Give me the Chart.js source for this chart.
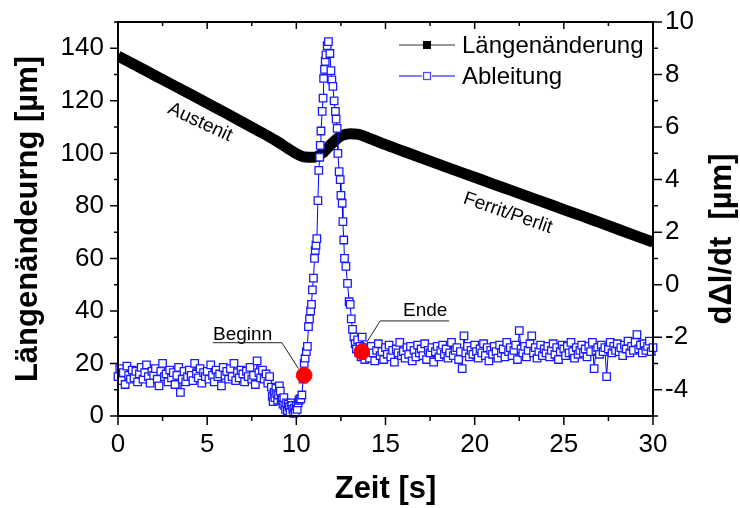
<!DOCTYPE html>
<html>
<head>
<meta charset="utf-8">
<script src="https://cdn.jsdelivr.net/npm/chart.js@4/dist/chart.umd.min.js"></script>
<style>
  html, body { margin: 0; padding: 0; background: #fff; }
  #wrap { width: 740px; height: 508px; }
</style>
</head>
<body>
<div id="wrap"><canvas id="chart" width="740" height="508"></canvas></div>
<script>
// Längenänderung (left axis, µm) over Zeit (s)
const timeLaenge = [0, 1, 2, 3, 4, 5, 6, 7, 8,
  8.5, 9, 9.5, 10, 10.5, 11, 11.5, 12, 12.5, 13, 13.5, 14,
  15, 16, 17, 18, 19, 20, 21, 22, 23, 24, 25, 26, 27, 28, 29, 30];
const laenge = [137, 133.5, 129.9, 126.3, 122.7, 119.1, 115.5, 111.8, 108.1,
  106.2, 104.2, 102.0, 99.9, 98.6, 98.5, 100.3, 103.8, 106.6, 107.5, 107.2, 106.0,
  103.3, 100.8, 98.3, 95.8, 93.3, 90.9, 88.4, 86.0, 83.5, 81.1, 78.6, 76.2, 73.7, 71.2, 68.7, 66.2];

// Ableitung (right axis) sample times and values
const timeAbl = [
  0, 0.1, 0.2, 0.3, 0.4, 0.5, 0.6, 0.7, 0.8, 0.9,
  1, 1.1, 1.2, 1.3, 1.4, 1.5, 1.6, 1.7, 1.8, 1.9,
  2, 2.1, 2.2, 2.3, 2.4, 2.5, 2.6, 2.7, 2.8, 2.9,
  3, 3.1, 3.2, 3.3, 3.4, 3.5, 3.6, 3.7, 3.8, 3.9,
  4, 4.1, 4.2, 4.3, 4.4, 4.5, 4.6, 4.7, 4.8, 4.9,
  5, 5.1, 5.2, 5.3, 5.4, 5.5, 5.6, 5.7, 5.8, 5.9,
  6, 6.1, 6.2, 6.3, 6.4, 6.5, 6.6, 6.7, 6.8, 6.9,
  7, 7.1, 7.2, 7.3, 7.4, 7.5, 7.6, 7.7, 7.8, 7.9,
  8, 8.1, 8.2, 8.3, 8.4, 8.5,
  8.6, 8.65, 8.7, 8.75, 8.8, 8.85, 8.9, 8.95, 9, 9.05,
  9.1, 9.15, 9.2, 9.25, 9.3, 9.35, 9.4, 9.45, 9.5, 9.55,
  9.6, 9.65, 9.7, 9.75, 9.8, 9.85, 9.9, 9.95, 10, 10.05,
  10.1, 10.15, 10.2, 10.25,
  10.31, 10.38, 10.44, 10.49, 10.56, 10.62, 10.68, 10.74, 10.8, 10.85,
  10.9, 10.96, 11.02, 11.06, 11.1, 11.15, 11.21, 11.26, 11.31, 11.34,
  11.38, 11.45, 11.5, 11.53, 11.58, 11.62, 11.66, 11.73, 11.8, 11.88,
  11.94, 11.99, 12.05, 12.12, 12.19, 12.23, 12.29, 12.33, 12.4, 12.46,
  12.5, 12.57, 12.61, 12.66, 12.7, 12.78, 12.87, 12.96, 13.02, 13.08,
  13.15, 13.23, 13.3, 13.37, 13.44, 13.5, 13.57, 13.63, 13.69, 13.77,
  13.84, 13.9,
  14, 14.1, 14.2, 14.3, 14.4, 14.5, 14.6, 14.7, 14.8, 14.9,
  15, 15.1, 15.2, 15.3, 15.4, 15.5, 15.6, 15.7, 15.8, 15.9,
  16, 16.1, 16.2, 16.3, 16.4, 16.5, 16.6, 16.7, 16.8, 16.9,
  17, 17.1, 17.2, 17.3, 17.4, 17.5, 17.6, 17.7, 17.8, 17.9,
  18, 18.1, 18.2, 18.3, 18.4, 18.5, 18.6, 18.7, 18.8, 18.9,
  19, 19.1, 19.2, 19.3, 19.4, 19.5, 19.6, 19.7, 19.8, 19.9,
  20, 20.1, 20.2, 20.3, 20.4, 20.5, 20.6, 20.7, 20.8, 20.9,
  21, 21.1, 21.2, 21.3, 21.4, 21.5, 21.6, 21.7, 21.8, 21.9,
  22, 22.1, 22.2, 22.3, 22.4, 22.5, 22.6, 22.7, 22.8, 22.9,
  23, 23.1, 23.2, 23.3, 23.4, 23.5, 23.6, 23.7, 23.8, 23.9,
  24, 24.1, 24.2, 24.3, 24.4, 24.5, 24.6, 24.7, 24.8, 24.9,
  25, 25.1, 25.2, 25.3, 25.4, 25.5, 25.6, 25.7, 25.8, 25.9,
  26, 26.1, 26.2, 26.3, 26.4, 26.5, 26.6, 26.7, 26.8, 26.9,
  27, 27.1, 27.2, 27.3, 27.4, 27.5, 27.6, 27.7, 27.8, 27.9,
  28, 28.1, 28.2, 28.3, 28.4, 28.5, 28.6, 28.7, 28.8, 28.9,
  29, 29.1, 29.2, 29.3, 29.4, 29.5, 29.6, 29.7, 29.8, 29.9,
  30
];
const ableitung = [
  -3.5, -3.2, -3.65, -3.35, -3.8, -3.1, -3.45, -3.6, -3.25, -3.55,
  -3.3, -3.7, -3.4, -3.15, -3.6, -3.35, -3.05, -3.5, -3.75, -3.3,
  -3.45, -3.2, -3.6, -3.85, -3.3, -3.0, -3.5, -3.4, -3.7, -3.25,
  -3.55, -3.35, -3.8, -3.45, -3.15, -4.1, -3.6, -3.3, -3.7, -3.5,
  -3.25, -3.45, -3.65, -3.0, -3.4, -3.55, -3.2, -3.75, -3.35, -3.5,
  -3.3, -3.6, -3.05, -3.45, -3.7, -3.25, -3.5, -3.4, -3.85, -3.15,
  -3.45, -3.3, -3.6, -3.2, -3.5, -3.0, -3.65, -3.35, -3.55, -3.25,
  -3.4, -3.7, -3.3, -3.5, -3.15, -3.6, -3.45, -3.8, -2.9, -3.35,
  -3.55, -3.25, -3.6, -3.4, -3.75, -3.5,
  -3.9, -4.25, -4.45, -4.1, -4.3, -3.95, -4.15, -4.4, -4.2, -3.85,
  -4.05, -4.35, -4.4, -4.55, -4.3, -4.6, -4.75, -4.5, -4.8, -4.55,
  -4.65, -4.85, -4.5, -4.6, -4.75, -4.9, -4.7, -4.85, -4.6, -4.75,
  -4.5, -4.4, -4.35, -4.35,
  -4.2, -3.6, -3.0, -2.8, -2.55, -2.35, -1.6, -1.3, -1.0, -0.75,
  -0.2, 0.25, 1.0, 1.3, 1.5, 1.75, 3.2, 4.35, 4.85, 5.3,
  5.85, 6.6, 7.1, 7.85, 8.2, 8.5, 8.75, 9.1, 9.25, 8.8,
  8.15, 7.8, 7.55, 7.0, 6.6, 6.3, 5.95, 5.0, 4.3, 4.0,
  3.4, 3.1, 2.4, 1.7, 1.0, 0.7, 0.05, -0.65, -0.75, -1.3,
  -1.7, -2.0, -2.25, -2.45, -2.1, -2.6, -2.35, -2.75, -2.0, -2.4,
  -2.85, -2.7,
  -2.45, -2.8, -2.35, -2.6, -2.9, -2.5, -2.25, -2.7, -2.55, -2.85,
  -2.4, -2.65, -2.3, -2.75, -2.5, -2.95, -2.45, -2.6, -2.2, -2.7,
  -2.55, -2.8, -2.4, -2.65, -2.35, -2.9, -2.5, -2.75, -2.3, -2.6,
  -2.45, -2.7, -2.25, -2.85, -2.5, -2.6, -2.4, -2.95, -2.55, -2.35,
  -2.75, -2.5, -2.3, -2.65, -2.45, -2.8, -2.6, -2.2, -2.7, -2.5,
  -2.4, -2.85, -2.55, -3.2, -1.95, -2.6, -2.35, -2.75, -2.5, -2.65,
  -2.3, -2.55, -2.8, -2.45, -2.6, -2.25, -2.7, -2.4, -2.9, -2.5,
  -2.65, -2.35, -2.55, -2.8, -2.3, -2.6, -2.45, -2.75, -2.2, -2.55,
  -2.4, -2.7, -2.5, -2.3, -2.85, -1.75, -2.45, -2.6, -2.35, -2.75,
  -2.5, -2.25, -1.95, -2.6, -2.4, -2.8, -2.55, -2.3, -2.7, -2.45,
  -2.6, -2.35, -2.75, -2.5, -2.25, -2.65, -2.4, -2.85, -2.55, -2.3,
  -2.45, -2.7, -2.35, -2.6, -2.2, -2.55, -2.8, -2.4, -2.65, -2.5,
  -2.3, -2.6, -2.45, -2.75, -2.35, -2.55, -2.2, -3.2, -2.5, -2.4,
  -2.65, -2.3, -2.55, -2.4, -3.5, -2.45, -2.2, -2.6, -2.35, -2.5,
  -2.25, -2.55, -2.4, -2.7, -2.3, -2.45, -2.15, -2.6, -2.35, -2.5,
  -2.2, -1.9, -2.45, -2.3, -2.6, -2.25, -2.5, -2.35, -2.15, -2.55,
  -2.4
];

// Beginn / Ende markers (right axis)
const eventTime = [10.44, 13.67];
const eventValue = [-3.45, -2.56];

const FONT = "'Liberation Sans', Arial, Helvetica, sans-serif";

const toPoints = (xs, ys) => ys.map((v, i) => ({ x: xs[i], y: v }));

// frame, tick marks, legend, annotations
const decorPlugin = {
  id: "decor",
  afterDatasetsDraw(chart) {
    const { ctx, chartArea: a, scales } = chart;
    const x = scales.x, yl = scales.y, yr = scales.y2;
    ctx.save();
    ctx.strokeStyle = "#000";
    ctx.lineWidth = 2;
    ctx.strokeRect(a.left, a.top, a.right - a.left, a.bottom - a.top);

    const mids = (ticks) => {
      const out = [];
      for (let i = 0; i < ticks.length - 1; i++) out.push((ticks[i].value + ticks[i + 1].value) / 2);
      return out;
    };
    ctx.lineWidth = 1.5;
    ctx.beginPath();
    // x bottom (outward) and top (inward)
    x.ticks.forEach((t) => {
      const p = x.getPixelForValue(t.value);
      ctx.moveTo(p, a.bottom); ctx.lineTo(p, a.bottom + 9);
      ctx.moveTo(p, a.top); ctx.lineTo(p, a.top + 7);
    });
    mids(x.ticks).forEach((v) => {
      const p = x.getPixelForValue(v);
      ctx.moveTo(p, a.bottom); ctx.lineTo(p, a.bottom + 5);
      ctx.moveTo(p, a.top); ctx.lineTo(p, a.top + 4);
    });
    // left
    const leftMinor = mids(yl.ticks).concat([150]);
    yl.ticks.forEach((t) => {
      const p = yl.getPixelForValue(t.value);
      ctx.moveTo(a.left - 8, p); ctx.lineTo(a.left, p);
    });
    leftMinor.forEach((v) => {
      const p = yl.getPixelForValue(v);
      ctx.moveTo(a.left - 4, p); ctx.lineTo(a.left, p);
    });
    // right
    const rightMinor = mids(yr.ticks).concat([-5]);
    yr.ticks.forEach((t) => {
      const p = yr.getPixelForValue(t.value);
      ctx.moveTo(a.right, p); ctx.lineTo(a.right + 9, p);
    });
    rightMinor.forEach((v) => {
      const p = yr.getPixelForValue(v);
      ctx.moveTo(a.right, p); ctx.lineTo(a.right + 5, p);
    });
    ctx.stroke();

    // annotations
    const P = (t, v) => [x.getPixelForValue(t), yr.getPixelForValue(v)];
    ctx.fillStyle = "#000";
    ctx.font = `19px ${FONT}`;
    ctx.textBaseline = "alphabetic";
    ctx.textAlign = "left";
    let p = P(5.33, -2.12);
    ctx.fillText("Beginn", p[0], p[1]);
    p = P(15.98, -1.2);
    ctx.fillText("Ende", p[0], p[1]);

    ctx.lineWidth = 1;
    ctx.strokeStyle = "#222";
    ctx.beginPath();
    let q = P(5.32, -2.21); ctx.moveTo(q[0], q[1]);
    q = P(9.19, -2.21); ctx.lineTo(q[0], q[1]);
    q = P(10.12, -3.2); ctx.lineTo(q[0], q[1]);
    q = P(18.57, -1.38); ctx.moveTo(q[0], q[1]);
    q = P(14.7, -1.38); ctx.lineTo(q[0], q[1]);
    q = P(13.96, -2.18); ctx.lineTo(q[0], q[1]);
    ctx.stroke();

    const rotText = (txt, t, l, deg) => {
      ctx.save();
      ctx.translate(x.getPixelForValue(t), yl.getPixelForValue(l));
      ctx.rotate((deg * Math.PI) / 180);
      ctx.textAlign = "center";
      ctx.textBaseline = "middle";
      ctx.fillText(txt, 0, 0);
      ctx.restore();
    };
    rotText("Austenit", 4.6, 111.8, 25);
    rotText("Ferrit/Perlit", 21.86, 77.2, 19);

    // right axis title (reads bottom to top)
    ctx.save();
    ctx.translate(722, 239);
    ctx.rotate(-Math.PI / 2);
    ctx.font = `bold 31px ${FONT}`;
    ctx.textAlign = "center";
    ctx.textBaseline = "middle";
    ctx.fillText("dΔl/dt  [µm]", 0, 0);
    ctx.restore();

    // legend
    ctx.font = `24px ${FONT}`;
    ctx.textBaseline = "middle";
    ctx.textAlign = "left";
    ctx.lineWidth = 1;
    ctx.strokeStyle = "#333";
    ctx.beginPath(); ctx.moveTo(399, 45); ctx.lineTo(455, 45); ctx.stroke();
    ctx.fillStyle = "#000";
    ctx.fillRect(423, 41, 8, 8);
    ctx.fillText("Längenänderung", 462, 46);
    ctx.strokeStyle = "#0000ff";
    ctx.beginPath(); ctx.moveTo(399, 76); ctx.lineTo(422, 76); ctx.moveTo(432, 76); ctx.lineTo(455, 76); ctx.stroke();
    ctx.strokeStyle = "#4d4dff";
    ctx.lineWidth = 1.3;
    ctx.fillStyle = "#fff";
    ctx.fillRect(423.5, 72.5, 7, 7);
    ctx.strokeRect(423.5, 72.5, 7, 7);
    ctx.fillStyle = "#000";
    ctx.fillText("Ableitung", 462, 77);
    ctx.restore();
  },
};

new Chart(document.getElementById("chart"), {
  type: "scatter",
  data: {
    datasets: [
      {
        label: "Beginn/Ende",
        data: toPoints(eventTime, eventValue),
        yAxisID: "y2",
        showLine: false,
        pointRadius: 7.8,
        pointBackgroundColor: "#ff0000",
        pointBorderColor: "#ff0000",
        order: 0,
      },
      {
        label: "Ableitung",
        data: toPoints(timeAbl, ableitung),
        yAxisID: "y2",
        showLine: true,
        borderColor: "#0000ff",
        borderWidth: 1,
        pointStyle: "rect",
        pointRadius: 5.3,
        pointBorderWidth: 1.3,
        pointBorderColor: "#1a1aff",
        pointBackgroundColor: "#ffffff",
        clip: 6,
        order: 1,
      },
      {
        label: "Längenänderung",
        data: toPoints(timeLaenge, laenge),
        yAxisID: "y",
        showLine: true,
        borderColor: "#000",
        borderWidth: 11,
        pointRadius: 0,
        cubicInterpolationMode: "monotone",
        order: 2,
      },
    ],
  },
  options: {
    responsive: false,
    animation: false,
    devicePixelRatio: 1,
    layout: { padding: { top: 22, left: 0, right: 0, bottom: 0 } },
    plugins: { legend: { display: false }, tooltip: { enabled: false } },
    scales: {
      x: {
        type: "linear",
        position: "bottom",
        min: 0,
        max: 30,
        grid: { display: false, drawTicks: true, tickLength: 10 },
        border: { display: false },
        ticks: { stepSize: 5, autoSkip: false, maxRotation: 0, padding: 3, color: "#000", font: { family: FONT, size: 26 } },
        title: { display: true, text: "Zeit [s]", color: "#000", font: { family: FONT, size: 31, weight: "bold" }, padding: { top: 0, bottom: 0 } },
        afterFit: (s) => { s.height = 92; },
      },
      y: {
        position: "left",
        min: 0,
        max: 150,
        grid: { display: false, drawTicks: true, tickLength: 10 },
        border: { display: false },
        ticks: {
          stepSize: 20, includeBounds: false, autoSkip: false, padding: 4, color: "#000",
          font: { family: FONT, size: 26 },
          callback: (v) => (v % 20 === 0 ? v : ""),
        },
        title: { display: true, text: "Längenändeurng [µm]", color: "#000", font: { family: FONT, size: 31, weight: "bold" }, padding: { top: 10, bottom: 0 } },
        afterFit: (s) => { s.width = 118; },
      },
      y2: {
        position: "right",
        min: -5,
        max: 10,
        grid: { display: false, drawTicks: true, tickLength: 10 },
        border: { display: false },
        ticks: {
          stepSize: 2, includeBounds: false, autoSkip: false, padding: 2, color: "#000",
          font: { family: FONT, size: 26 },
          callback: (v) => (v % 2 === 0 ? v : ""),
        },
        afterFit: (s) => { s.width = 87; },
      },
    },
  },
  plugins: [decorPlugin],
});
</script>
</body>
</html>
